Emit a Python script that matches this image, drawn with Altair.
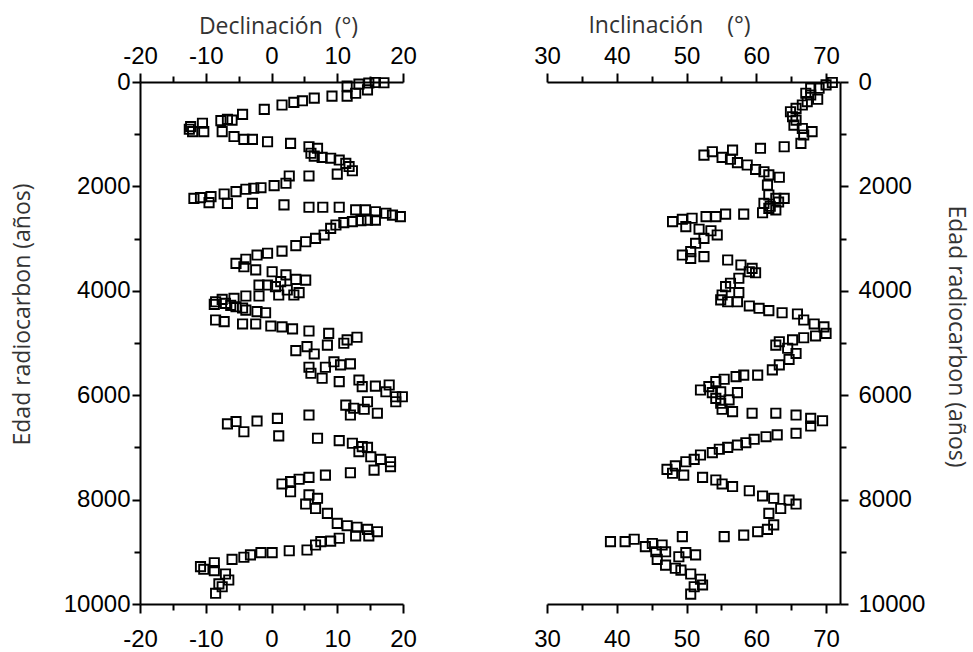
import altair as alt
import pandas as pd

# Declination record: radiocarbon age (years) and declination (degrees)
dec_age = [10, 20, 15, 40, 80, 150, 215, 270, 270, 310, 360, 390, 440, 525, 620, 715, 730, 740,
           790, 855, 905, 950, 950, 950, 1045, 1100, 1100, 1145, 1175, 1240, 1270, 1365, 1420,
           1445, 1460, 1495, 1560, 1620, 1700, 1765, 1800, 1800, 1940, 1985, 2025, 2035, 2055,
           2100, 2145, 2195, 2215, 2230, 2310, 2325, 2325, 2355, 2400, 2400, 2400, 2450, 2450,
           2485, 2515, 2550, 2580, 2645, 2645, 2655, 2675, 2695, 2740, 2805, 2930, 2995, 3060,
           3135, 3240, 3280, 3315, 3395, 3475, 3540, 3600, 3635, 3695, 3780, 3795, 3825, 3890,
           3890, 3920, 3985, 4035, 4080, 4080, 4100, 4100, 4145, 4165, 4210, 4240, 4260, 4280,
           4305, 4330, 4370, 4400, 4420, 4560, 4590, 4635, 4635, 4675, 4690, 4730, 4770, 4815,
           4890, 4940, 5005, 5040, 5070, 5145, 5210, 5360, 5400, 5420, 5465, 5465, 5580, 5675,
           5710, 5740, 5805, 5825, 5835, 5935, 6030, 6030, 6125, 6125, 6190, 6250, 6270, 6345,
           6380, 6380, 6445, 6495, 6505, 6550, 6700, 6780, 6825, 6870, 6920, 6985, 7000, 7080,
           7180, 7230, 7275, 7370, 7435, 7485, 7530, 7575, 7610, 7655, 7700, 7850, 7910, 7975,
           8085, 8170, 8265, 8455, 8500, 8530, 8570, 8615, 8695, 8695, 8740, 8795, 8805, 8870,
           8965, 8980, 9015, 9015, 9060, 9105, 9145, 9210, 9285, 9335, 9360, 9425, 9540, 9615,
           9670, 9795]
dec_val = [15.8, 14.8, 17.1, 13.3, 11.5, 14.6, 12.8, 11.5, 9.2, 6.5, 4.7, 3.4, 1.6, -1.1, -4.4,
           -6.7, -6.0, -7.7, -10.5, -12.3, -12.5, -12.0, -10.3, -7.5, -5.7, -4.2, -2.9, -0.6,
           2.9, 5.7, 7.0, 6.0, 6.5, 7.7, 9.0, 10.3, 11.3, 11.8, 12.3, 10.0, 5.7, 2.7, 2.2, 0.4,
           -1.6, -2.7, -3.9, -5.4, -7.2, -9.2, -10.8, -11.8, -9.5, -6.7, -2.9, 1.9, 5.7, 7.8,
           10.3, 12.8, 14.3, 15.8, 17.4, 18.4, 19.6, 15.8, 14.6, 13.6, 12.3, 11.0, 9.8, 9.0, 8.0,
           6.7, 5.2, 3.7, 1.6, -0.6, -2.2, -3.9, -5.4, -4.2, -2.4, 0.1, 2.2, 3.7, 5.2, 1.4, -0.6,
           -1.9, 0.6, 2.4, 4.2, 3.4, 1.1, -1.9, -3.9, -5.7, -7.5, -8.5, -7.0, -8.7, -6.2, -5.4,
           -4.4, -3.9, -2.2, -0.9, -8.5, -7.2, -4.4, -2.4, -0.1, 1.6, 3.2, 5.7, 8.7, 13.0, 11.5,
           11.0, 8.5, 5.4, 3.7, 6.5, 9.5, 12.0, 10.5, 5.7, 8.2, 6.0, 7.7, 13.3, 10.3, 17.9, 15.8,
           13.8, 17.4, 18.9, 19.9, 18.9, 14.6, 11.3, 12.5, 14.1, 16.1, 12.0, 5.7, 0.9, -2.2, -5.4,
           -6.7, -4.2, 1.1, 7.0, 10.3, 12.3, 13.8, 14.6, 13.3, 15.1, 16.6, 18.1, 18.1, 15.6, 12.0,
           8.2, 5.7, 4.2, 2.9, 1.6, 2.9, 5.7, 7.0, 5.2, 6.7, 8.5, 10.0, 11.5, 13.0, 14.6, 16.1,
           14.8, 12.8, 10.3, 9.0, 7.5, 6.7, 5.4, 2.7, 0.1, -1.6, -3.2, -4.2, -6.0, -8.7, -10.8,
           -10.3, -8.7, -7.0, -6.5, -8.0, -7.5, -8.5]

# Inclination record: radiocarbon age (years) and inclination (degrees)
inc_age = [10, 55, 120, 120, 215, 250, 330, 375, 440, 505, 570, 665, 730, 825, 890, 950, 1015,
           1175, 1240, 1270, 1305, 1335, 1400, 1445, 1480, 1545, 1590, 1675, 1720, 1780, 1825,
           1975, 2165, 2230, 2230, 2300, 2325, 2380, 2420, 2450, 2505, 2530, 2530, 2580, 2580,
           2610, 2630, 2675, 2770, 2820, 2850, 2930, 2995, 3090, 3250, 3315, 3380, 3345, 3410,
           3505, 3570, 3635, 3655, 3760, 3855, 3920, 4035, 4080, 4175, 4210, 4210, 4290, 4335,
           4380, 4420, 4445, 4560, 4635, 4690, 4815, 4865, 4900, 4940, 4975, 5040, 5100, 5200,
           5315, 5420, 5515, 5615, 5615, 5645, 5695, 5740, 5835, 5900, 5950, 5935, 5950, 6060,
           6090, 6155, 6270, 6315, 6345, 6345, 6380, 6445, 6490, 6590, 6730, 6760, 6795, 6845,
           6910, 6955, 7000, 7035, 7100, 7145, 7230, 7275, 7355, 7420, 7495, 7530, 7575, 7625,
           7700, 7750, 7830, 7930, 7975, 8010, 8085, 8170, 8265, 8485, 8570, 8615, 8680, 8710,
           8710, 8760, 8805, 8805, 8840, 8870, 8900, 9000, 9000, 9015, 9060, 9095, 9145, 9255,
           9315, 9350, 9425, 9525, 9635, 9670, 9810]
inc_val = [70.9, 70.0, 69.0, 67.8, 67.1, 67.8, 68.8, 67.3, 66.6, 65.7, 64.9, 65.2, 65.7, 65.4,
           66.6, 68.0, 66.8, 66.4, 64.0, 60.6, 56.6, 53.7, 52.5, 55.1, 56.3, 57.3, 58.7, 59.9,
           61.1, 61.8, 63.3, 61.6, 61.8, 64.0, 62.8, 63.2, 61.1, 62.0, 61.8, 62.8, 60.9, 58.2,
           55.6, 54.2, 52.8, 50.8, 49.4, 48.0, 49.9, 51.8, 53.5, 54.4, 52.5, 51.3, 50.6, 49.4,
           50.6, 52.5, 55.9, 57.8, 59.4, 59.0, 59.9, 57.5, 56.3, 55.6, 57.5, 55.1, 54.9, 55.9,
           57.3, 59.0, 60.4, 61.8, 63.7, 65.9, 66.8, 68.3, 69.7, 70.0, 68.5, 66.8, 65.2, 63.3,
           62.8, 64.5, 65.7, 64.7, 63.3, 62.3, 60.2, 58.2, 57.1, 55.4, 54.2, 53.2, 52.0, 53.7,
           54.9, 57.3, 54.2, 56.1, 54.9, 55.1, 56.6, 59.4, 62.8, 65.7, 67.8, 69.5, 67.8, 65.7,
           63.0, 61.4, 59.7, 58.5, 57.3, 55.9, 54.7, 53.7, 52.0, 51.1, 49.9, 48.4, 47.2, 48.0,
           49.6, 52.3, 54.2, 55.1, 56.6, 59.0, 60.9, 62.5, 64.7, 65.7, 63.5, 61.8, 62.5, 61.6,
           60.2, 58.2, 55.4, 49.4, 42.5, 41.2, 39.1, 45.1, 46.5, 44.1, 45.6, 47.0, 49.9, 51.3,
           48.9, 45.8, 47.0, 48.4, 49.2, 50.6, 52.0, 52.3, 51.1, 50.6]

# Axis tick positions
dec_ticks = [-20, -15, -10, -5, 0, 5, 10, 15, 20]
inc_ticks = [30, 35, 40, 45, 50, 55, 60, 65, 70]
age_ticks = [0, 1000, 2000, 3000, 4000, 5000, 6000, 7000, 8000, 9000, 10000]

dec_df = pd.DataFrame({"edad": dec_age, "declinacion": dec_val})
inc_df = pd.DataFrame({"edad": inc_age, "inclinacion": inc_val})

TITLE_FONT = "Open Sans"
LABEL_FONT = "Liberation Sans"
TITLE_COLOR = "#333333"
NB = "\u00a0"

x_major = "datum.value % 10 === 0"
y_major = "datum.value % 2000 === 0"


def cond(test, major, minor):
    return {"condition": {"test": test, "value": major}, "value": minor}


def x_axis(orient, values, title=None, title_x=None, title_y=None):
    kw = dict(
        orient=orient,
        values=values,
        labelExpr=f"{x_major} ? '' + datum.value : ''",
        tickSize=cond(x_major, 9, 6),
        labelPadding=5 if orient == "top" else 14,
        labelFlush=False,
        labelOverlap=False,
    )
    if title:
        kw.update(title=title, titleX=title_x, titleY=title_y,
                  titleAlign="center", titleBaseline="alphabetic", titleAngle=0)
    else:
        kw.update(title=None)
    return alt.Axis(**kw)


def y_axis(orient, title_x, title_y):
    return alt.Axis(
        orient=orient,
        values=age_ticks,
        labelExpr=f"{y_major} ? '' + datum.value : ''",
        tickSize=cond(y_major, 8, 6),
        labelPadding=2 if orient == "left" else 10,
        labelFlush=False,
        labelOverlap=False,
        title="Edad radiocarbon (años)",
        titleX=title_x,
        titleY=title_y,
        titleAlign="center",
        titleBaseline="alphabetic",
        titleAngle=-90 if orient == "left" else 90,
    )


y_scale = alt.Scale(domain=[0, 10000], reverse=True, nice=False, zero=False)
dec_scale = alt.Scale(domain=[-20, 20], nice=False, zero=False)
inc_scale = alt.Scale(domain=[30, 72], nice=False, zero=False)

square = dict(shape="square", filled=False, size=85, strokeWidth=1.9, color="black")

W_DEC, W_INC, H = 263, 293, 522

y_left = alt.Y("edad:Q", scale=y_scale, axis=y_axis("left", -111, 232))
y_right = alt.Y("edad:Q", scale=y_scale, axis=y_axis("right", 108, 254))

left = alt.layer(
    alt.Chart(dec_df).mark_point(**square, opacity=1).encode(
        x=alt.X("declinacion:Q", scale=dec_scale,
                axis=x_axis("top", dec_ticks, f"Declinación{NB}{NB}(°)", 138, -49)),
        y=y_left,
    ),
    alt.Chart(dec_df).mark_point(**square, opacity=0).encode(
        x=alt.X("declinacion:Q", scale=dec_scale, axis=x_axis("bottom", dec_ticks)),
        y=y_left,
    ),
).resolve_axis(x="independent").properties(width=W_DEC, height=H)

right = alt.layer(
    alt.Chart(inc_df).mark_point(**square, opacity=1).encode(
        x=alt.X("inclinacion:Q", scale=inc_scale,
                axis=x_axis("top", inc_ticks, f"Inclinación{NB * 4}(°)", 122, -50)),
        y=y_right,
    ),
    alt.Chart(inc_df).mark_point(**square, opacity=0).encode(
        x=alt.X("inclinacion:Q", scale=inc_scale, axis=x_axis("bottom", inc_ticks)),
        y=y_right,
    ),
).resolve_axis(x="independent").properties(width=W_INC, height=H)

chart = alt.hconcat(left, right, spacing=144, bounds="flush").configure_view(
    stroke=None
).configure_axis(
    grid=False,
    domainColor="black",
    domainWidth=2,
    tickColor="black",
    tickWidth=2,
    labelFont=LABEL_FONT,
    labelFontSize=24,
    labelColor="black",
    titleFont=TITLE_FONT,
    titleFontSize=23,
    titleFontWeight="normal",
    titleColor=TITLE_COLOR,
).properties(
    background="white",
    padding={"left": 10, "top": 14, "right": 5, "bottom": 0},
)

chart.save("out.html", embed_options={"renderer": "svg", "actions": False})
